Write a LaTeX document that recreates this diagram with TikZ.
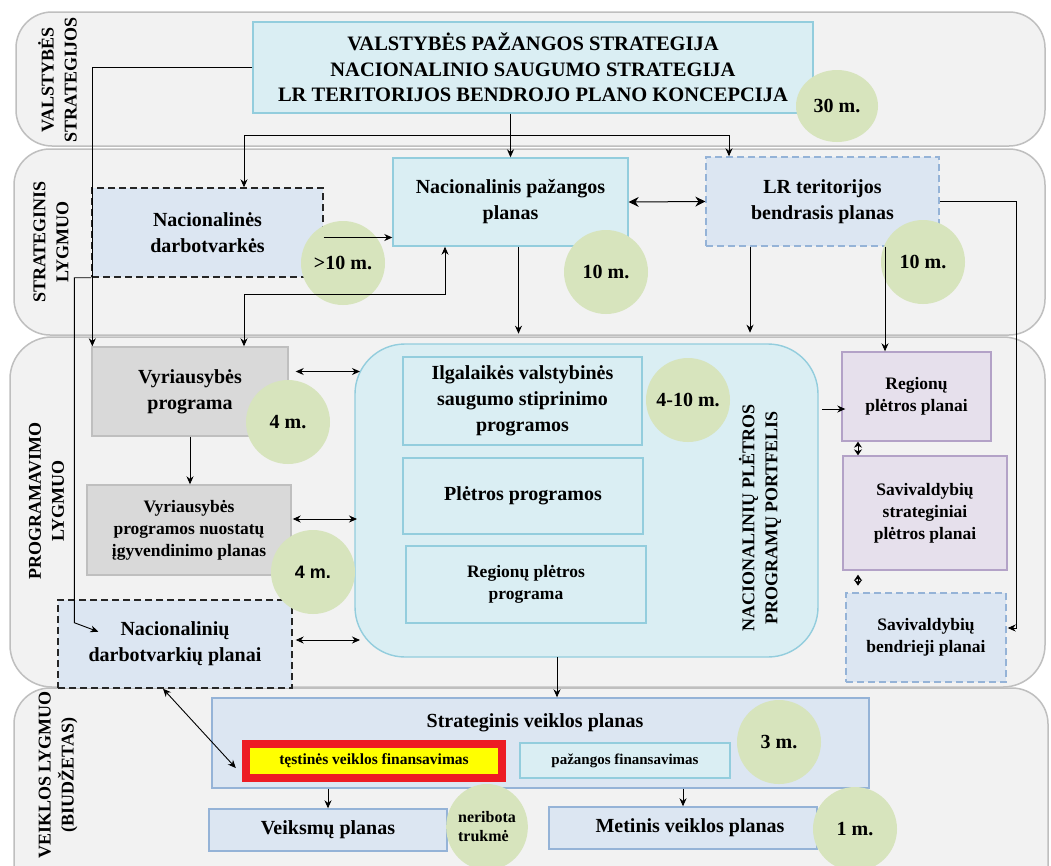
\documentclass[tikz,border=0pt]{standalone}
\usepackage{fontspec}
\setmainfont{Liberation Serif}
\newfontfamily\sansfam{Liberation Sans}
\usetikzlibrary{arrows.meta,shapes.geometric,calc}
\newcommand{\FS}[2]{\fontsize{#1pt}{#2pt}\selectfont}
\definecolor{bandfill}{HTML}{F2F2F2}
\definecolor{bandline}{HTML}{BFBFBF}
\definecolor{cyanfill}{HTML}{DAEEF3}
\definecolor{cyanline}{HTML}{93CDDD}
\definecolor{bluefill}{HTML}{DCE6F2}
\definecolor{blueline}{HTML}{95B3D7}
\definecolor{grayfill}{HTML}{D9D9D9}
\definecolor{grayline}{HTML}{BFBFBF}
\definecolor{purfill}{HTML}{E6E0EC}
\definecolor{purline}{HTML}{B3A2C7}
\definecolor{greenc}{HTML}{D7E4BD}
\definecolor{redb}{HTML}{ED1C24}
\definecolor{yel}{HTML}{FFFF00}
\tikzset{
  band/.style={draw=bandline, fill=bandfill, line width=1.5pt, rounded corners=36pt},
  box/.style={inner sep=0pt, align=center, line width=1.4pt, font=\bfseries\FS{20}{26}},
  smallf/.style={font=\bfseries\FS{17.5}{22}},
  cyanbox/.style={box, draw=cyanline, fill=cyanfill},
  bluebox/.style={box, draw=blueline, fill=bluefill},
  dashbox/.style={box, draw=black!85, fill=bluefill, dash pattern=on 7pt off 4pt},
  dashblue/.style={box, draw=blueline, fill=bluefill, dash pattern=on 7pt off 4pt},
  graybox/.style={box, draw=grayline, fill=grayfill},
  purbox/.style={box, draw=purline, fill=purfill},
  circ/.style={circle, fill=greenc, inner sep=0pt, minimum size=84pt, font=\bfseries\FS{20}{24}},
  side/.style={rotate=90, align=center, inner sep=0pt, font=\bfseries\FS{18}{23}},
  arr/.style={-{Stealth[length=8pt,width=7pt]}, line width=0.9pt},
  darr/.style={{Stealth[length=8pt,width=7pt]}-{Stealth[length=8pt,width=7pt]}, line width=0.9pt},
  bigdarr/.style={{Stealth[length=10pt,width=10pt]}-{Stealth[length=10pt,width=10pt]}, line width=1pt},
  tinyarr/.style={{Stealth[length=6pt,width=8pt]}-{Stealth[length=6pt,width=8pt]}, line width=1pt},
}
\begin{document}
\begin{tikzpicture}[x=1pt,y=-1pt]
\clip (0,0) rectangle (1051,865);
\fill[white] (0,0) rectangle (1051,865);

% bands
\draw[band] (16,12) rectangle (1045,146);
\draw[band] (14,149) rectangle (1045,335);
\draw[band, rounded corners=42pt] (10,337) rectangle (1045,687);
\draw[band] (14,688) rectangle (1048,905);

% side labels
\node[side] (l1) at (57.5,80) {VALSTYBĖS\\STRATEGIJOS};
\node[side] (l2) at (51,242) {STRATEGINIS\\LYGMUO};
\node[side] (l3) at (46.5,501) {PROGRAMAVIMO\\LYGMUO};
\node[side] (l4) at (58,775) {VEIKLOS LYGMUO\\(BIUDŽETAS)};

% top level
\node[cyanbox, minimum width=560pt, minimum height=91pt, font=\bfseries\FS{20.5}{25.5}] (top) at (533,67.5)
  {VALSTYBĖS PAŽANGOS STRATEGIJA\\NACIONALINIO SAUGUMO STRATEGIJA\\LR TERITORIJOS BENDROJO PLANO KONCEPCIJA};

% strategic level
\node[dashbox, minimum width=231pt, minimum height=89pt] (nd) at (207.5,232.5) {Nacionalinės\\darbotvarkės};
\node[cyanbox, minimum width=235pt, minimum height=88pt] (npp) at (510.5,202) {Nacionalinis pažangos\\planas};
\node[dashblue, minimum width=233pt, minimum height=89pt] (lr) at (822.5,201.5) {LR teritorijos\\bendrasis planas};

% programming level
\node[graybox, minimum width=196pt, minimum height=89pt] (vp) at (190,391.5) {Vyriausybės\\programa};
\node[graybox, smallf, minimum width=204pt, minimum height=90pt] (vpn) at (189,530) {Vyriausybės\\programos nuostatų\\įgyvendinimo planas};
\node[dashbox, minimum width=234pt, minimum height=88pt] (ndp) at (175,644) {Nacionalinių\\darbotvarkių planai};

\draw[draw=cyanline, fill=cyanfill, line width=1.4pt, rounded corners=50pt] (355,344) rectangle (818,657);
\node[inner sep=0pt] (big) at (586.5,500.5) {};
\path (355,344) coordinate (bignw) (818,657) coordinate (bigse);
\node[cyanbox, minimum width=239pt, minimum height=88pt] (ilg) at (522.5,401) {Ilgalaikės valstybinės\\saugumo stiprinimo\\programos};
\node[cyanbox, minimum width=240pt, minimum height=76pt] (plp) at (523,496) {Plėtros programos};
\node[cyanbox, smallf, minimum width=240pt, minimum height=77pt] (rpp) at (526,584.5) {Regionų plėtros\\programa};
\node[side, font=\bfseries\FS{18}{23}] (portf) at (760,518) {NACIONALINIŲ PLĖTROS\\PROGRAMŲ PORTFELIS};

\node[purbox, smallf, minimum width=149pt, minimum height=89pt] (rpl) at (916.5,396.5) {Regionų\\plėtros planai};
\node[purbox, smallf, minimum width=164pt, minimum height=114pt] (ssp) at (925,513) {Savivaldybių\\strateginiai\\plėtros planai};
\node[dashblue, smallf, minimum width=160pt, minimum height=89pt] (sbp) at (926,637.5) {Savivaldybių\\bendrieji planai};

% activity level
\node[bluebox, minimum width=657pt, minimum height=90pt] (svp) at (540.5,743) {};
\node[font=\bfseries\FS{20}{24}, inner sep=0pt] (svpt) at (535,723) {Strateginis veiklos planas};
\node[fill=redb, inner sep=0pt, minimum width=264pt, minimum height=42pt] (red) at (374,761) {};
\node[fill=yel, inner sep=0pt, minimum width=248pt, minimum height=26pt, font=\bfseries\FS{15.5}{18}] (yb) at (374,761) {tęstinės veiklos finansavimas};
\node[cyanbox, minimum width=210pt, minimum height=35pt, font=\bfseries\FS{15}{18}] (pf) at (625,760.5) {pažangos finansavimas};
\node[bluebox, minimum width=238pt, minimum height=42pt] (vkp) at (328,830) {Veiksmų planas};
\node[bluebox, minimum width=268pt, minimum height=42pt] (mvp) at (683,828) {};
\node[font=\bfseries\FS{20}{24}, inner sep=0pt] (mvpt) at (690,828) {Metinis veiklos planas};

% duration circles
\node[circ, ellipse, minimum width=82pt, minimum height=72pt] (c30) at (837,106) {30 m.};
\node[circ] (c10a) at (343,263) {>10 m.};
\node[circ] (c10b) at (606,272) {10 m.};
\node[circ] (c10c) at (923,262) {10 m.};
\node[circ] (c4a) at (288,422) {4 m.};
\node[circ, font=\sansfam\bfseries\FS{18}{22}] (c4b) at (313,572) {4 m.};
\node[circ] (c410) at (688,400) {4-10 m.};
\node[circ] (c3) at (779,742) {3 m.};
\node[circ, ellipse, minimum width=80pt, minimum height=86pt, align=left, font=\bfseries\FS{16}{19}] (cnt) at (487,827) {neribota\\trukmė};
\node[circ] (c1) at (855,829) {1 m.};

% connectors: top level
\draw[arr] (top.west) -| ([xshift=1pt]vp.north west);
\draw[arr] (top.south -| npp.north) -- (npp.north);
\coordinate (j1) at (510.5,135);
\draw[arr] (j1) -| ([xshift=36.5pt]nd.north);
\draw[arr] (j1) -| ([xshift=-93.5pt]lr.north);

% strategic level
\draw[arr] ([yshift=-5pt]nd.east) -- ([yshift=-5pt]nd.east -| npp.west);
\draw[bigdarr] (npp.east) -- (lr.west);
\draw[arr] (nd.south west) -- ++(-17,0) -- ++(0,345) -- ++(24,9);
\draw[darr] ([xshift=54pt]vp.north) -- ++(0,-52) -| ([xshift=-65.5pt]npp.south);
\draw[arr] ([xshift=8pt]npp.south) -- ++(0,87);
\draw[arr] ([xshift=-72.5pt]lr.south) -- ++(0,86);
\draw[arr] ([xshift=62.5pt]lr.south) -- ([xshift=62.5pt]lr.south |- rpl.north);
\draw[arr] (lr.east) -- ++(77,0) -- ++(0,426.5) -- ++(-9,0);

% programming level
\draw[darr] ([xshift=7pt,yshift=20pt]vp.east) -- ([xshift=5pt,yshift=20pt]vp.east -| bignw);
\draw[arr] (vp.south) -- (vp.south |- vpn.north);
\draw[darr] ([xshift=1pt,yshift=11pt]vpn.east) -- ([xshift=2pt,yshift=11pt]vpn.east -| bignw);
\draw[darr] ([xshift=3pt,yshift=4pt]ndp.east) -- ([xshift=5pt,yshift=4pt]ndp.east -| bignw);
\draw[arr] ([xshift=4pt,yshift=-12.5pt]rpl.west -| bigse) -- ([xshift=4pt,yshift=-12.5pt]rpl.west);
\draw[tinyarr] ([xshift=-58.5pt]rpl.south) -- ([xshift=-58.5pt]rpl.south |- ssp.north);
\draw[tinyarr] ([xshift=-67pt,yshift=-4pt]ssp.south) -- ([xshift=-67pt,yshift=-15pt]ssp.south);

% to activity level
\draw[arr] ([xshift=-29.5pt]big.center |- bigse) -- ([xshift=-29.5pt]big.center |- svp.north);
\draw[darr] ([xshift=-12pt]ndp.south) -- ([xshift=-6pt,yshift=-7pt]red.west);
\draw[arr] (vkp.north |- svp.south) -- (vkp.north);
\draw[arr] (mvp.north |- svp.south) -- (mvp.north);
\end{tikzpicture}
\end{document}
